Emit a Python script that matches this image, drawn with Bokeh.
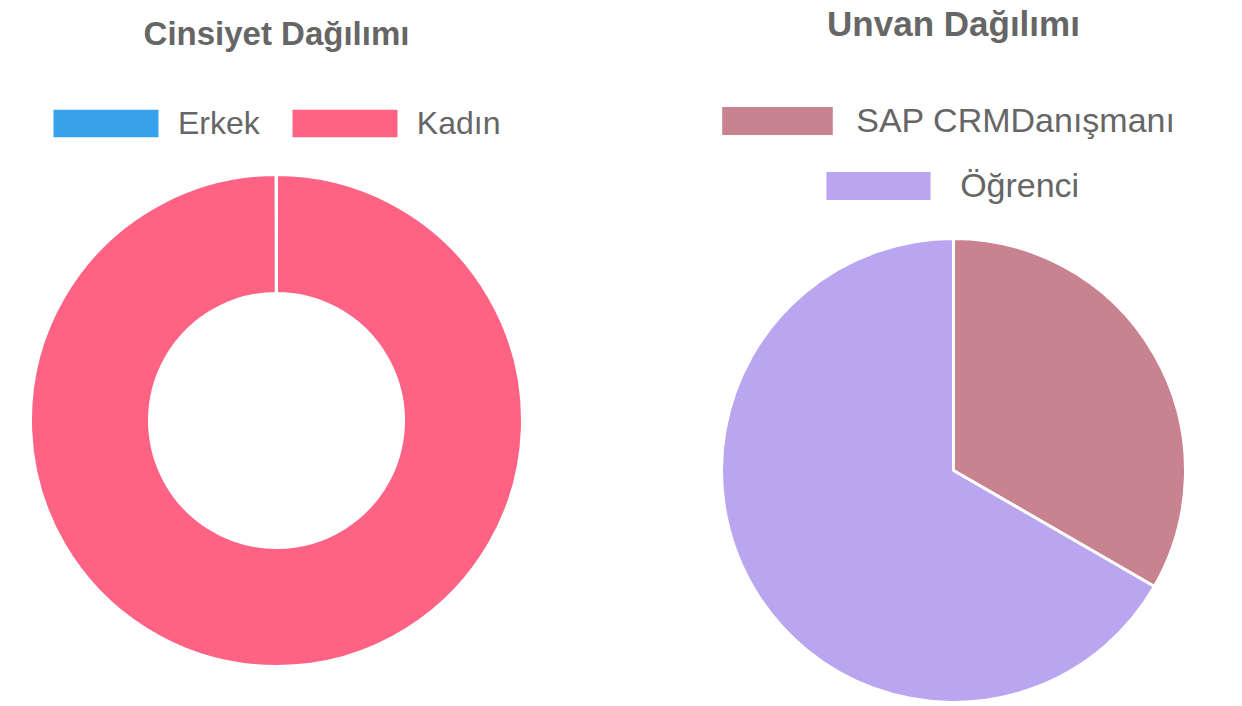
import numpy as np
from bokeh.plotting import figure
from bokeh.models import Range1d, Legend, LegendItem, Label
from bokeh.embed import file_html
from bokeh.resources import INLINE

W, H = 1242, 706

# ---- data ----
gender_title = "Cinsiyet Dağılımı"
gender_labels = ["Erkek", "Kadın"]
gender_values = [0, 1]
gender_colors = ["#36A2EB", "#FF6384"]

rank_title = "Unvan Dağılımı"
rank_labels = ["SAP CRMDanışmanı", "Öğrenci"]
rank_values = [1, 2]
rank_colors = ["#C98390", "#BAA6F0"]

FONT = "Liberation Sans"
TXT = "#666666"
BW = 3  # white slice border


def angles(values):
    total = float(sum(values))
    fr = np.cumsum([0] + list(values)) / total
    start = np.pi / 2 - 2 * np.pi * fr[:-1]
    end = np.pi / 2 - 2 * np.pi * fr[1:]
    # avoid a degenerate full circle (start == end) in svg
    for i in range(len(start)):
        if abs(start[i] - end[i]) >= 2 * np.pi - 1e-9:
            end[i] = start[i] - (2 * np.pi - 2e-3)
    return start, end


def legend(items, x0, yc, sw, sh, text_x, spacing, size):
    # Bokeh insets area swatches by 10% of the glyph box and the white border eats BW/2
    gw = (sw + BW) / 0.8
    gh = (sh + BW) / 0.8
    lx = x0 - 0.1 * gw - BW / 2
    standoff = text_x - (lx + gw)
    return Legend(items=items, orientation="horizontal",
                  location=(lx, H - (yc + gh / 2)),
                  glyph_width=int(round(gw)), glyph_height=int(round(gh)),
                  label_standoff=int(round(standoff)), spacing=spacing,
                  padding=0, margin=0, border_line_color=None, background_fill_alpha=0,
                  label_text_font=FONT, label_text_font_size=size, label_text_color=TXT)


p = figure(width=W, height=H, x_range=Range1d(0, W), y_range=Range1d(0, H),
           output_backend="svg", toolbar_location=None, min_border=0)
p.axis.visible = False
p.grid.visible = False
p.outline_line_color = None
p.background_fill_color = "white"

# ---- left: doughnut ----
cx1, cy1, r_out1, r_in1 = 276, H - 420, 246, 127
s1, e1 = angles(gender_values)
rends1 = []
for lab, st, en, col in zip(gender_labels, s1, e1, gender_colors):
    rends1.append(p.annular_wedge(x=[cx1], y=[cy1], inner_radius=r_in1, outer_radius=r_out1,
                                  start_angle=[st], end_angle=[en], direction="clock",
                                  fill_color=col, line_color="white", line_width=BW))

p.add_layout(legend([LegendItem(label=l, renderers=[r]) for l, r in zip(gender_labels, rends1)],
                    53, 123.5, 105, 27, 178, 17, "32px"))
p.add_layout(Label(x=cx1, y=H - 33, text=gender_title, text_align="center",
                   text_baseline="middle", text_font=FONT, text_font_size="33px",
                   text_font_style="bold", text_color=TXT))

# ---- right: pie ----
cx2, cy2, r2 = 953, H - 470, 232
s2, e2 = angles(rank_values)
rends2 = []
for lab, st, en, col in zip(rank_labels, s2, e2, rank_colors):
    rends2.append(p.wedge(x=[cx2], y=[cy2], radius=r2, start_angle=[st], end_angle=[en],
                          direction="clock", fill_color=col, line_color="white", line_width=BW))

p.add_layout(legend([LegendItem(label=rank_labels[0], renderers=[rends2[0]])],
                    722, 121, 111, 28, 857, 0, "34px"))
p.add_layout(legend([LegendItem(label=rank_labels[1], renderers=[rends2[1]])],
                    826, 186, 104, 28, 960, 0, "34px"))
p.add_layout(Label(x=cx2, y=H - 23, text=rank_title, text_align="center",
                   text_baseline="middle", text_font=FONT, text_font_size="35px",
                   text_font_style="bold", text_color=TXT))

open("out.html", "w").write(file_html(p, INLINE))
